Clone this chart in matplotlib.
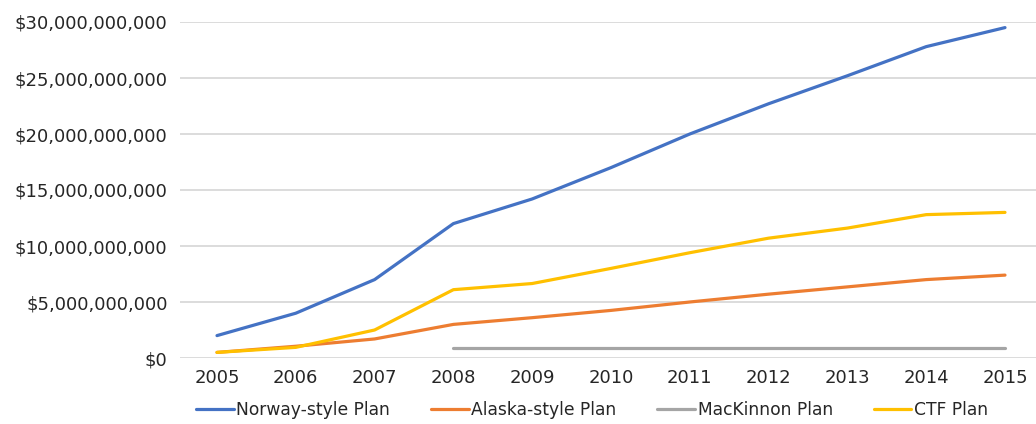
import matplotlib
matplotlib.use("Agg")
import matplotlib.pyplot as plt
from matplotlib.ticker import FuncFormatter
import numpy as np

years = [2005, 2006, 2007, 2008, 2009, 2010, 2011, 2012, 2013, 2014, 2015]
norway = [2.0e9, 4.0e9, 7.0e9, 12.0e9, 14.2e9, 17.0e9, 20.0e9, 22.7e9, 25.2e9, 27.8e9, 29.5e9]
alaska = [0.5e9, 1.05e9, 1.7e9, 3.0e9, 3.6e9, 4.25e9, 5.0e9, 5.7e9, 6.35e9, 7.0e9, 7.4e9]
mackinnon = [np.nan, np.nan, np.nan, 0.9e9, 0.9e9, 0.9e9, 0.9e9, 0.9e9, 0.9e9, 0.9e9, 0.9e9]
ctf = [0.5e9, 0.95e9, 2.5e9, 6.1e9, 6.65e9, 8.0e9, 9.4e9, 10.7e9, 11.6e9, 12.8e9, 13.0e9]
series_names = ["Norway-style Plan", "Alaska-style Plan", "MacKinnon Plan", "CTF Plan"]
colors = ["#4472C4", "#ED7D31", "#A5A5A5", "#FFC000"]

plt.rcParams['font.family'] = ['DejaVu Sans']

fig = plt.figure(figsize=(10.36, 4.24), dpi=100)
ax = fig.add_axes([180/1036, (424-358)/424, 1 - 180/1036, (358-22)/424])

for vals, name, c in zip([norway, alaska, mackinnon, ctf], series_names, colors):
    ax.plot(years, vals, color=c, lw=2.3, label=name, solid_capstyle='round')

ax.set_ylim(0, 30e9)
ax.set_yticks(np.arange(0, 30e9 + 1, 5e9))
ax.yaxis.set_major_formatter(FuncFormatter(lambda v, p: "${:,.0f}".format(v)))
ax.set_xticks(years)
ax.set_xticklabels([str(y) for y in years])
ax.set_xlim(2005 - 37/78.8, 2015 + 31/78.8)

ax.grid(axis='y', color='#D9D9D9', lw=1.3)
ax.set_axisbelow(True)
for s in ax.spines.values():
    s.set_visible(False)
ax.tick_params(axis='both', length=0, labelsize=13, colors='#262626')
ax.tick_params(axis='y', pad=9)
ax.tick_params(axis='x', pad=8)
for lbl in ax.get_xticklabels() + ax.get_yticklabels():
    lbl.set_color('#262626')

leg = fig.legend(loc='center', bbox_to_anchor=(592/1036, 1 - 410/424), ncol=4,
                 frameon=False, fontsize=12.3, handlelength=2.2, handletextpad=0.15,
                 columnspacing=2.4)
for t in leg.get_texts():
    t.set_color('#262626')

fig.savefig("out.png", dpi=100)
